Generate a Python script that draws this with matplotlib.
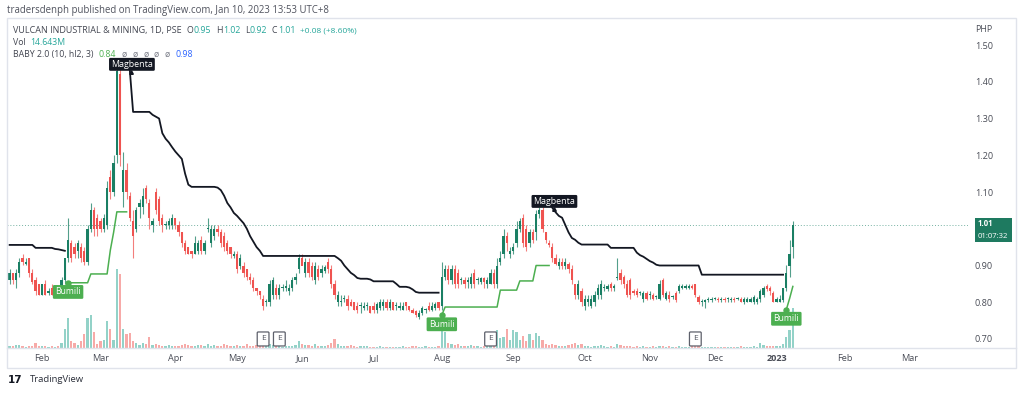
import numpy as np
import pandas as pd
import matplotlib
matplotlib.use("Agg")
import matplotlib.pyplot as plt
from matplotlib.patches import Rectangle
from matplotlib.lines import Line2D
import matplotlib.transforms as mtransforms

plt.rcParams['font.family'] = ['Open Sans', 'DejaVu Sans']

# ---------------- data ----------------
first_day = "2022-01-18"
last_day = "2023-03-31"
holidays = ["2022-02-01", "2022-02-25", "2022-04-14", "2022-04-15", "2022-05-02",
            "2022-05-09", "2022-08-29", "2022-10-31", "2022-11-01", "2022-11-30",
            "2022-12-08", "2022-12-26", "2022-12-30", "2023-01-02"]

opens = [
    # Jan
    .86, .88, .86, .88, .92, .905, .92, .88, .86, .85,
    # Feb
    .82, .85, .825, .84, .82, .84, .84, .86, .92, .96, .95, .94, .95, .94, .91, 1.00, 1.05, 1.03,
    # Mar
    1.02, 1.00, 1.01, 1.14, 1.10, 1.20, 1.42, 1.10, 1.16, 1.09, 1.02, 1.00, 1.06, 1.06, 1.11, 1.07,
    1.01, 1.10, 1.08, 1.03, 1.01, 1.01, 1.01,
    # Apr
    1.03, 1.01, .99, .96, .95, .94, .93, .94, .97, .94, 1.00, .96, .98, 1.00, .99, .98, .96, .95, .925,
    # May
    .93, .90, .90, .89, .87, .86, .84, .83, .81, .80, .80, .82, .84, .82, .84, .84, .83, .84, .86, .89,
    # Jun
    .92, .88, .91, .90, .86, .89, .88, .885, .91, .89, .85, .80, .80, .81, .81, .80, .80, .79, .79,
    .785, .79, .79,
    # Jul
    .79, .78, .785, .79, .80, .785, .80, .79, .785, .78, .80, .79, .78, .775, .76, .77, .78, .79,
    .78, .785, .80,
    # Aug
    .79, .87, .89, .86, .89, .88, .86, .86, .855, .85, .88, .86, .855, .865, .85, .85, .88, .85,
    .91, .93, .98, .93,
    # Sep
    .94, .96, 1.00, 1.03, 1.00, .96, .99, .99, 1.04, 1.05, .99, .96, .95, .92, .90, .91, .90, .905,
    .89, .85, .82, .83,
    # Oct
    .79, .80, .79, .80, .82, .82, .84, .835, .85, .84, .865, .88, .87, .85, .86, .83, .83, .825, .81, .825,
    # Nov
    .82, .82, .815, .81, .86, .81, .82, .815, .825, .83, .84, .84, .84, .845, .85, .815, .80, .80, .805, .805,
    # Dec
    .81, .81, .805, .81, .81, .805, .81, .81, .81, .80, .80, .80, .80, .80, .81, .82, .845, .84, .825,
    # Jan 2023
    .80, .80, .805, .84, .90, .95,
]
highs = [
    .89, .88, .89, .92, .93, .92, .92, .89, .87, .85,
    .85, .86, .84, .85, .84, .845, .87, .92, 1.03, .97, .96, .97, .96, .95, 1.01, 1.07, 1.06, 1.04,
    1.03, 1.04, 1.13, 1.16, 1.20, 1.45, 1.45, 1.21, 1.18, 1.10, 1.05, 1.06, 1.08, 1.11, 1.12, 1.08,
    1.03, 1.11, 1.09, 1.04, 1.02, 1.03, 1.04,
    1.03, 1.02, .99, .97, .95, .94, .98, .97, .98, .97, 1.03, 1.01, 1.01, 1.01, 1.00, .99, .97, .95, .94,
    .94, .93, .91, .89, .88, .87, .84, .83, .82, .81, .86, .87, .85, .85, .85, .86, .85, .87, .88, .93,
    .93, .92, .92, .91, .91, .90, .90, .90, .92, .90, .86, .83, .82, .82, .82, .81, .80, .80, .80,
    .80, .80, .79,
    .80, .80, .81, .81, .81, .81, .80, .80, .80, .80, .80, .79, .785, .78, .78, .79, .785, .80,
    .80, .80, .80,
    .91, .90, .90, .90, .90, .89, .87, .87, .87, .88, .89, .87, .87, .87, .87, .89, .89, .92,
    .94, 1.00, .99, .95,
    .96, 1.02, 1.03, 1.04, 1.01, 1.00, 1.00, 1.05, 1.06, 1.06, .99, .97, .96, .93, .92, .92, .92, .91,
    .90, .85, .86, .84,
    .82, .82, .82, .83, .85, .86, .85, .85, .855, .85, .92, .89, .875, .86, .865, .835, .84, .83, .83, .83,
    .83, .825, .82, .86, .865, .83, .83, .82, .83, .85, .85, .85, .85, .85, .85, .82, .81, .81, .815, .815,
    .815, .815, .815, .815, .815, .815, .815, .815, .815, .815, .815, .815, .82, .815, .835, .845, .85, .845, .83,
    .815, .82, .84, .90, .97, 1.02,
]
lows = [
    .85, .85, .84, .87, .90, .90, .87, .85, .82, .82,
    .82, .82, .82, .82, .82, .83, .83, .85, .91, .91, .92, .92, .91, .90, .90, .99, .98, .98,
    .99, .99, 1.00, 1.08, 1.09, 1.18, 1.17, 1.06, 1.08, 1.02, .92, .99, 1.03, 1.04, 1.07, 1.00,
    .99, 1.04, 1.01, .99, 1.00, 1.00, 1.00,
    1.00, .98, .95, .93, .93, .92, .93, .93, .93, .93, .99, .95, .97, .98, .95, .94, .93, .92, .92,
    .88, .89, .87, .86, .85, .83, .82, .81, .78, .79, .79, .81, .81, .81, .83, .83, .82, .83, .85, .88,
    .90, .87, .87, .86, .85, .86, .87, .88, .88, .84, .81, .79, .79, .80, .78, .79, .78, .77, .77,
    .78, .78, .77,
    .77, .77, .78, .78, .78, .78, .78, .78, .78, .78, .78, .775, .77, .76, .755, .765, .77, .775,
    .775, .78, .78,
    .78, .86, .85, .85, .84, .84, .85, .84, .84, .84, .84, .85, .85, .84, .84, .85, .84, .84,
    .90, .92, .94, .92,
    .93, .95, .99, .95, .94, .95, .96, .97, 1.03, .99, .96, .95, .91, .90, .89, .89, .89, .88,
    .85, .81, .81, .79,
    .78, .79, .785, .79, .81, .81, .83, .83, .83, .83, .86, .85, .84, .815, .81, .82, .815, .82, .80, .805,
    .81, .805, .81, .805, .815, .805, .80, .81, .80, .825, .835, .835, .835, .835, .815, .795, .79, .785, .80, .80,
    .805, .80, .80, .80, .80, .80, .80, .805, .80, .795, .80, .80, .795, .795, .80, .815, .83, .82, .80,
    .80, .80, .80, .83, .87, .92,
]
closes = [
    .88, .86, .88, .91, .91, .91, .88, .855, .83, .82,
    .85, .82, .83, .82, .84, .835, .86, .92, .97, .92, .93, .96, .92, .91, 1.00, 1.05, 1.00, 1.00,
    1.00, 1.03, 1.11, 1.10, 1.18, 1.43, 1.20, 1.16, 1.10, 1.03, .98, 1.05, 1.07, 1.09, 1.08, 1.03,
    1.02, 1.05, 1.02, 1.01, 1.012, 1.02, 1.03,
    1.01, .99, .96, .94, .93, .93, .96, .96, .94, .96, 1.002, 1.00, 1.00, .99, .96, .95, .94, .93, .93,
    .89, .92, .88, .87, .86, .84, .83, .82, .79, .80, .85, .86, .82, .84, .84, .845, .84, .86, .87, .92,
    .90, .91, .88, .87, .90, .87, .89, .895, .89, .85, .82, .82, .802, .812, .79, .79, .78, .78, .792,
    .79, .792, .77,
    .78, .795, .80, .80, .785, .80, .78, .792, .79, .79, .79, .78, .77, .765, .77, .785, .782, .78,
    .79, .795, .785,
    .87, .89, .86, .89, .85, .85, .862, .85, .86, .87, .85, .862, .865, .855, .86, .88, .85, .90,
    .92, .98, .96, .94,
    .95, 1.00, 1.02, .96, .95, .99, .97, 1.04, 1.05, 1.00, .97, .955, .92, .905, .91, .90, .91, .89,
    .86, .82, .85, .80,
    .81, .81, .81, .82, .84, .85, .842, .845, .84, .845, .867, .86, .85, .82, .82, .825, .82, .827, .825, .81,
    .822, .81, .817, .85, .82, .825, .81, .817, .805, .845, .845, .845, .845, .84, .82, .80, .802, .805, .81, .81,
    .812, .805, .81, .805, .812, .81, .805, .812, .80, .81, .81, .81, .815, .81, .83, .84, .835, .83, .80,
    .81, .81, .84, .88, .93, 1.01,
]
volumes_m = [
    0.8, 0.6, 1.0, 1.2, 0.9, 0.5, 0.7, 0.6, 2.0, 0.8,
    0.7, 0.6, 0.5, 0.6, 0.5, 0.6, 2.0, 7.0, 11.0, 2.5, 2.0, 1.0, 2.5, 5.0, 11.0, 12.0, 6.0, 1.5,
    2.5, 3.0, 10.0, 7.0, 3.0, 29.0, 27.0, 7.0, 5.0, 5.5, 2.5, 2.0, 1.0, 2.0, 1.5, 4.0,
    1.0, 1.5, 1.2, 0.8, 0.6, 1.0, 0.8,
    0.8, 0.6, 1.2, 1.5, 1.0, 0.8, 0.7, 1.0, 1.2, 0.6, 1.5, 0.9, 1.0, 0.7, 0.8, 1.5, 1.0, 0.8, 0.6,
    1.0, 0.8, 0.6, 1.5, 0.7, 0.8, 1.0, 0.9, 1.2, 0.6, 1.5, 1.0, 0.8, 0.6, 0.5, 0.7, 0.8, 0.9, 1.2, 2.5,
    1.5, 1.0, 1.0, 0.8, 1.5, 0.7, 0.8, 0.6, 1.0, 1.8, 3.2, 1.5, 0.8, 0.6, 0.7, 1.0, 0.6, 0.5, 0.8,
    0.7, 0.6, 0.5,
    0.5, 0.4, 0.6, 0.5, 0.4, 0.3, 0.5, 0.4, 0.5, 0.6, 0.4, 0.5, 0.6, 0.7, 0.5, 0.4, 0.6, 0.5,
    0.4, 0.5, 0.6,
    11.0, 6.0, 2.0, 1.5, 1.0, 1.5, 0.8, 0.6, 0.8, 1.0, 0.7, 0.6, 0.5, 0.8, 0.7, 0.8, 1.0, 6.5,
    3.5, 4.0, 7.0, 3.0,
    6.5, 6.0, 3.0, 4.5, 2.5, 5.0, 3.0, 5.5, 4.5, 3.0, 1.5, 1.0, 1.5, 1.0, 0.7, 0.8, 0.6, 1.0,
    1.5, 2.0, 1.2, 1.5,
    0.8, 0.6, 0.5, 0.7, 0.8, 1.0, 0.6, 0.5, 0.6, 0.5, 1.5, 1.0, 0.8, 0.9, 0.7, 0.5, 0.6, 0.5, 0.6, 0.5,
    0.5, 0.6, 0.4, 0.9, 0.8, 0.5, 0.6, 0.4, 0.5, 0.6, 0.5, 0.4, 0.5, 0.6, 0.8, 0.7, 0.4, 0.5, 0.4, 0.5,
    0.4, 0.5, 0.4, 0.5, 0.4, 0.5, 0.4, 0.5, 0.6, 0.5, 0.4, 0.5, 0.6, 0.5, 1.8, 1.0, 0.7, 0.6, 0.8,
    0.7, 0.9, 1.5, 4.0, 6.5, 14.643,
]

# BABY 2.0 stop lines: (first bar index, values)
upper_segments = [
    (0, [.956, .956, .956, .956, .956, .956, .956, .956, .948, .948, .948, .948, .948, .948,
         .945, .944, .942, .940]),
    (37, [1.43, 1.318, 1.318, 1.318, 1.318, 1.318, 1.318, 1.31, 1.305, 1.30, 1.26, 1.245, 1.235,
          1.222, 1.21, 1.20, 1.19, 1.15, 1.12, 1.114, 1.114, 1.114, 1.114, 1.114, 1.114, 1.114,
          1.114, 1.112, 1.105, 1.09, 1.07, 1.058, 1.043, 1.035, 1.025, 1.015, 1.00, .98, .965, .95,
          .94, .926, .926, .926, .926, .926, .926, .926, .926, .926, .926, .926, .926, .926, .926,
          .926, .926, .926, .926, .926, .926, .926, .926, .926, .92, .913, .90, .89, .88, .874,
          .866, .864, .864, .864, .862, .857, .857, .857, .857, .857, .857, .857, .85, .842, .842,
          .842, .84, .835, .828, .826, .826, .826, .826, .826, .826, .826]),
    (167, [1.057, 1.045, 1.035, 1.03, 1.01, .99, .975, .97, .962, .957, .957, .957, .957, .957,
           .957, .957, .957, .957, .948, .948, .948, .948, .948, .948, .948, .948, .935, .928,
           .924, .918, .912, .908, .902, .90, .90, .90, .90, .90, .90, .90, .90, .90, .90, .90,
           .90, .90, .875, .875, .875, .875, .875, .875, .875, .875, .875, .875, .875, .875, .875,
           .875, .875, .875, .875, .875, .875, .875, .875, .875, .875, .875, .875, .875]),
]
lower_segments = [
    (18, [.853, .853, .853, .853, .853, .853, .853, .877, .877, .877, .877, .877, .877, .942, .99,
          1.046, 1.046, 1.046, 1.046]),
    (133, [.765, .787, .787, .787, .787, .787, .787, .787, .787, .787, .787, .787, .787, .787, .787,
           .787, .787, .787, .833, .833, .833, .833, .833, .833, .858, .858, .858, .858, .858, .90,
           .90, .90, .90, .90]),
    (239, [.78, .81, .843]),
]
earnings_bars = [78, 83, 148, 211]
price_ticks = [0.70, 0.80, 0.90, 1.00, 1.10, 1.20, 1.30, 1.40, 1.50]
indicator_last = ["0.84", "ø", "ø", "ø", "ø", "ø", "0.98"]

# ---------------- styling ----------------
UP, DN = '#1a7f64', '#ef5350'
VUP, VDN = '#93d2c8', '#f7aaa8'
BLACK_LINE, GREEN_LINE = '#131722', '#4caf50'
TXT = '#4a4d57'
TEAL_TXT = '#26a69a'

W, H = 1023, 393
fig = plt.figure(figsize=(W / 100, H / 100), dpi=100)
fig.patch.set_facecolor('white')


def frect(x0, y0, x1, y1):
    return [x0 / W, 1 - y1 / H, (x1 - x0) / W, (y1 - y0) / H]


rect = frect(7, 18, 968, 348)
axv = fig.add_axes(rect)
ax = fig.add_axes(rect, sharex=axv)
ax.patch.set_visible(False)

n = len(closes)
x = np.arange(n)
o = np.array(opens); h = np.array(highs); l = np.array(lows); c = np.array(closes)
up = c >= o
cols = np.where(up, UP, DN)

# volume
axv.bar(x, volumes_m, width=0.68, color=np.where(up, VUP, VDN), linewidth=0)
axv.set_ylim(0, 121)
axv.set_axis_off()

# candles
ax.vlines(x, l, h, colors=cols, linewidth=0.8, alpha=0.75, zorder=2)
body_lo = np.minimum(o, c)
body_h = np.maximum(np.abs(c - o), 0.0028)
ax.bar(x, body_h, bottom=body_lo, width=0.68, color=cols, linewidth=0, zorder=3)


def build(segments):
    arr = np.full(n, np.nan)
    for start, vals in segments:
        arr[start:start + len(vals)] = vals
    return arr


upper = build(upper_segments)
lower = build(lower_segments)
ax.plot(x, upper, color=BLACK_LINE, lw=1.3, zorder=4, solid_joinstyle='round')
ax.plot(x, lower, color=GREEN_LINE, lw=1.1, zorder=4, solid_joinstyle='round')

ax.set_xlim(-0.8, 294.9)
ax.set_ylim(0.6755, 1.5735)

# current price line
ax.axhline(c[-1], color=UP, lw=0.7, ls=(0, (1, 2)), alpha=0.6, zorder=1)

# signal labels
for start, vals in upper_segments[1:]:
    ax.annotate('Magbenta', xy=(start, vals[0]), xytext=(1.5, 4.6), textcoords='offset points',
                ha='center', va='center', fontsize=6.4, color='white', zorder=6,
                bbox=dict(boxstyle='round,pad=0.22,rounding_size=0.15', fc='#131722', ec='none'))
    ax.plot(start + 0.4, vals[0] - 0.004, marker='^', ms=2.6, color='#131722', zorder=6)
for start, vals in lower_segments:
    ax.plot(start, vals[0], 'o', ms=3.6, color=GREEN_LINE, zorder=6)
    ax.annotate('Bumili', xy=(start, vals[0]), xytext=(0, -6.6), textcoords='offset points',
                ha='center', va='center', fontsize=6.2, color='white', zorder=6,
                bbox=dict(boxstyle='round,pad=0.28,rounding_size=0.15', fc=GREEN_LINE, ec='none'))

# earnings markers
etr = mtransforms.blended_transform_factory(ax.transData, ax.transAxes)
for b in earnings_bars:
    ax.annotate('E', xy=(b, 0), xycoords=etr, xytext=(0, 6.5), textcoords='offset points',
                ha='center', va='center', fontsize=6.0, color='#50535e', zorder=6,
                bbox=dict(boxstyle='round,pad=0.42,rounding_size=0.12', fc='white', ec='#5d606b', lw=0.9))

# axes ticks (the scale label hidden under the last-price tag is not shown, as in TradingView)
ax.yaxis.tick_right()
shown_ticks = [t for t in price_ticks if abs(t - c[-1]) > 0.03]
ax.set_yticks(shown_ticks)
ax.set_yticklabels([f"{t:.2f}" for t in shown_ticks])
all_days = pd.bdate_range(first_day, last_day, freq='C', holidays=holidays)
tick_pos, tick_lab = [], []
for i in range(1, len(all_days)):
    if all_days[i].month != all_days[i - 1].month:
        tick_pos.append(i)
        tick_lab.append('2023' if all_days[i].month == 1 else all_days[i].strftime('%b'))
ax.set_xticks(tick_pos)
ax.set_xticklabels(tick_lab)
for t in ax.get_xticklabels():
    if t.get_text() == '2023':
        t.set_fontweight('bold')
        t.set_color('#2a2e39')
ax.tick_params(axis='y', length=0, pad=5, labelsize=6.6, labelcolor=TXT)
ax.tick_params(axis='x', length=0, pad=4.5, labelsize=6.6, labelcolor=TXT)
for s in ax.spines.values():
    s.set_visible(False)

# frame
fig.add_artist(Rectangle((7 / W, 1 - 368 / H), (1016 - 7) / W, (368 - 18) / H,
                         transform=fig.transFigure, fill=False, ec='#e0e3eb', lw=1))
fig.add_artist(Line2D([7 / W, 1016 / W], [1 - 348 / H, 1 - 348 / H],
                      transform=fig.transFigure, color='#e0e3eb', lw=1))

# price label box
fig.canvas.draw()
renderer = fig.canvas.get_renderer()
ypix = H - ax.transData.transform((0, c[-1]))[1]
fig.add_artist(Rectangle((975 / W, 1 - (ypix + 17) / H), 37 / W, 24 / H,
                         transform=fig.transFigure, fc='#1e7a60', ec='none'))
fig.text(978 / W, 1 - (ypix - 1.2) / H, f"{c[-1]:.2f}", fontsize=5.6, fontweight='bold',
         color='white', va='center', ha='left')
fig.text(978 / W, 1 - (ypix + 11.0) / H, "01:07:32", fontsize=5.6, color='white', va='center', ha='left')

fig.text(975 / W, 1 - 29 / H, 'PHP', fontsize=6.3, color=TXT, va='center', ha='left')

# header
fig.text(7 / W, 1 - 11 / H, "tradersdenph published on TradingView.com, Jan 10, 2023 13:53 UTC+8",
         fontsize=6.9, color='#50535e', va='center', ha='left')

LEG = '#434651'
FS = 6.3


def put(xp, yp, s, col, fs=FS):
    t = fig.text(xp / W, 1 - yp / H, s, fontsize=fs, color=col, va='center', ha='left')
    return t.get_window_extent(renderer).width


# legend line 1 (sequential, measured)
xp = 13
xp += put(xp, 30.5, "VULCAN INDUSTRIAL & MINING, 1D, PSE", LEG, 6.5) + 5
for lab, val in [("O", o[-1]), ("H", h[-1]), ("L", l[-1]), ("C", c[-1])]:
    xp += put(xp, 30.5, lab, LEG) + 0.5
    xp += put(xp, 30.5, f"{val:.2f}", TEAL_TXT) + 4.5
put(xp, 30.5, f"+{c[-1] - c[-2]:.2f} (+8.60%)", TEAL_TXT, 6.0)
# legend line 2
put(13, 42.5, "Vol", LEG)
put(30, 42.5, f"{volumes_m[-1]:.3f}M", TEAL_TXT)
# legend line 3
xp = 13
xp += put(xp, 54.5, "BABY 2.0 (10, hl2, 3)", LEG) + 5
ind_c = [GREEN_LINE, '#787b86', '#787b86', '#787b86', '#787b86', '#787b86', '#2962ff']
for s, col in zip(indicator_last, ind_c):
    xp += put(xp, 54.5, s, col) + 5.5

# footer logo
fig.text(8 / W, 1 - 380 / H, "17", fontsize=7.5, fontweight='bold', color='#131722',
         va='center', ha='left', family='DejaVu Sans')
fig.text(30 / W, 1 - 380 / H, "TradingView", fontsize=6.8, color='#2a2e39', va='center', ha='left')

fig.savefig("out.png", dpi=100, facecolor='white')
